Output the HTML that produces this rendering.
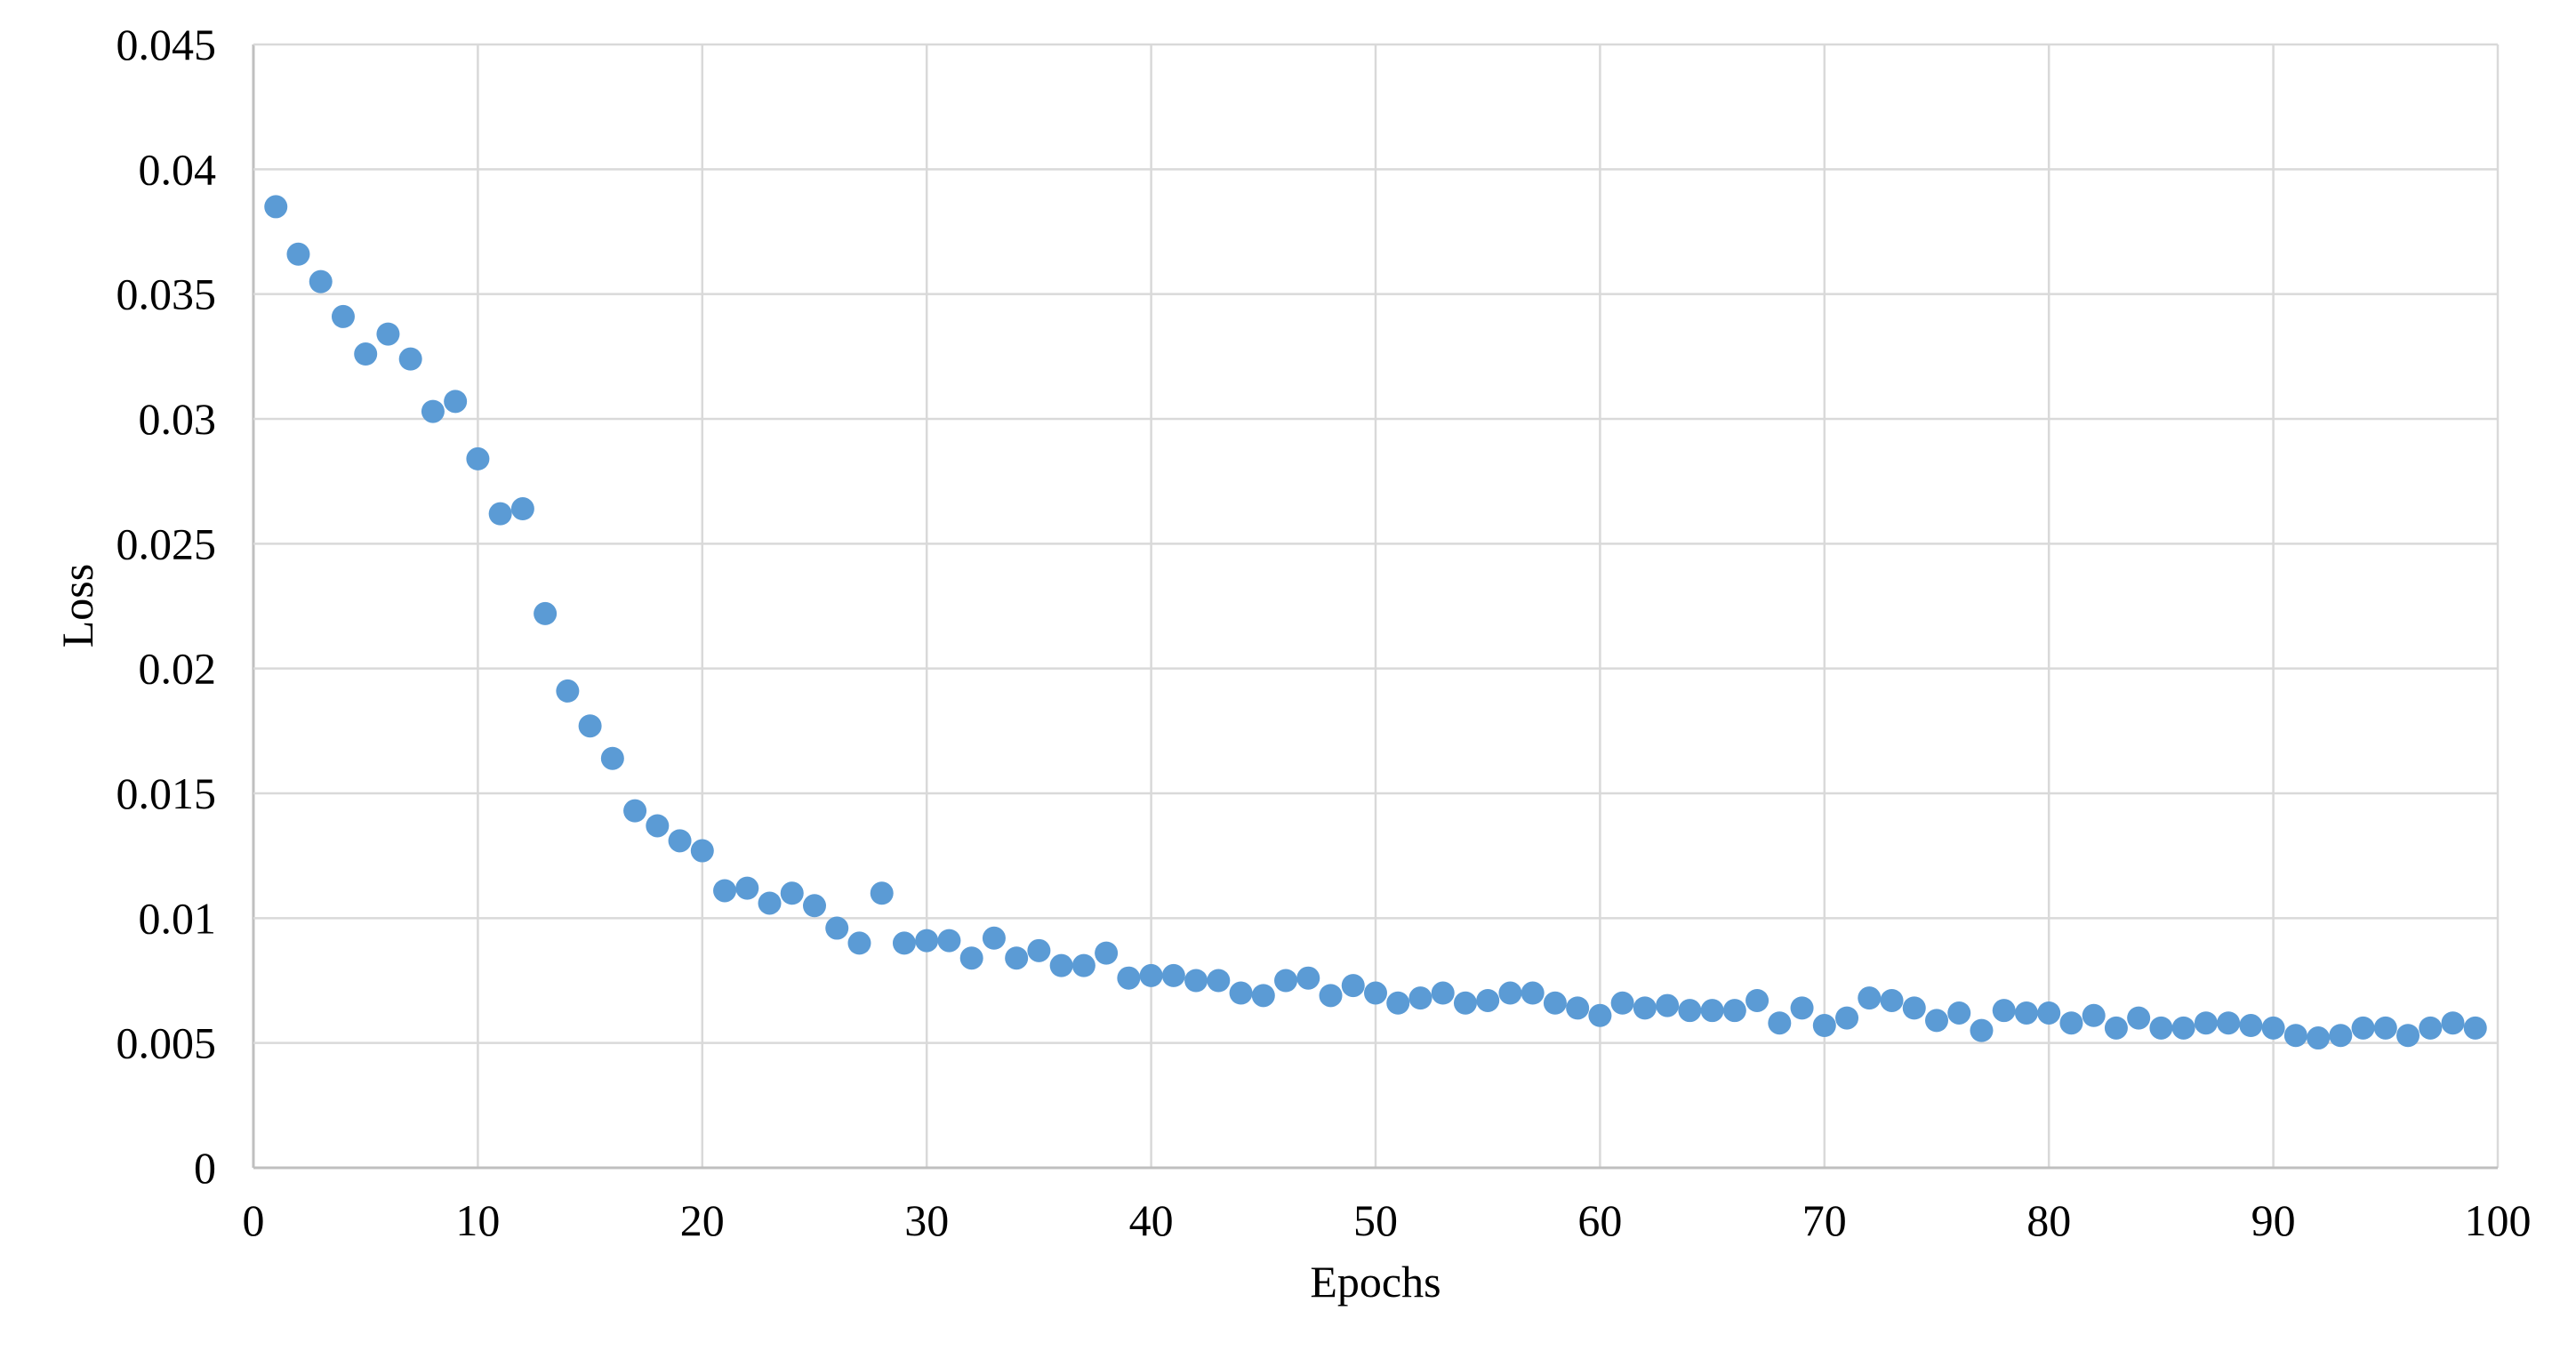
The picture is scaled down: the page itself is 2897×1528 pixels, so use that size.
<!DOCTYPE html>
<html><head><meta charset="utf-8"><style>
html,body{margin:0;padding:0;background:#fff;}
svg{display:block;}
text{font-family:"Liberation Serif",serif;fill:#000;}
</style></head><body>
<svg id="chart" width="2897" height="1528" viewBox="0 0 2897 1528" xmlns="http://www.w3.org/2000/svg">
<g id="grid"></g>
<g id="axes"></g>
<g id="points"></g>
<text x="1547" y="1458" font-size="50" text-anchor="middle">Epochs</text>
<text x="0" y="0" font-size="50" text-anchor="middle" transform="translate(104,681) rotate(-90)">Loss</text>
</svg>
<script>
const epochs = [];
for (let i = 1; i <= 99; i++) epochs.push(i);
const lossValues = [0.0385,0.0366,0.0355,0.0341,0.0326,0.0334,0.0324,0.0303,0.0307,0.0284,
0.0262,0.0264,0.0222,0.0191,0.0177,0.0164,0.0143,0.0137,0.0131,0.0127,
0.0111,0.0112,0.0106,0.0110,0.0105,0.0096,0.0090,0.0110,0.0090,0.0091,
0.0091,0.0084,0.0092,0.0084,0.0087,0.0081,0.0081,0.0086,0.0076,0.0077,
0.0077,0.0075,0.0075,0.0070,0.0069,0.0075,0.0076,0.0069,0.0073,0.0070,
0.0066,0.0068,0.0070,0.0066,0.0067,0.0070,0.0070,0.0066,0.0064,0.0061,
0.0066,0.0064,0.0065,0.0063,0.0063,0.0063,0.0067,0.0058,0.0064,0.0057,
0.0060,0.0068,0.0067,0.0064,0.0059,0.0062,0.0055,0.0063,0.0062,0.0062,
0.0058,0.0061,0.0056,0.0060,0.0056,0.0056,0.0058,0.0058,0.0057,0.0056,
0.0053,0.0052,0.0053,0.0056,0.0056,0.0053,0.0056,0.0058,0.0056];
const xTicks = [0,10,20,30,40,50,60,70,80,90,100];
const yTicks = [0,0.005,0.01,0.015,0.02,0.025,0.03,0.035,0.04,0.045];
const yTickLabels = ["0","0.005","0.01","0.015","0.02","0.025","0.03","0.035","0.04","0.045"];

const L=285,R=2809,T=50,B=1313;
const xMin=0,xMax=100,yMin=0,yMax=0.045;
const xs=v=>L+(v-xMin)/(xMax-xMin)*(R-L);
const ys=v=>B-(v-yMin)/(yMax-yMin)*(B-T);
const NS="http://www.w3.org/2000/svg";
const grid=document.getElementById('grid'),axes=document.getElementById('axes'),pts=document.getElementById('points');
function mk(tag,attrs,parent){const e=document.createElementNS(NS,tag);for(const k in attrs)e.setAttribute(k,attrs[k]);parent.appendChild(e);return e;}

xTicks.forEach((t,i)=>{
  const x=xs(t);
  const ln=mk('line',{x1:x,x2:x,y1:T,y2:B,stroke:i===0?'#bfbfbf':'#d9d9d9','stroke-width':i===0?3:2.5},grid);
  
  
  const tx=mk('text',{x:x,y:B+76,'font-size':50,'text-anchor':'middle'},axes);
  tx.textContent=String(t);
  
  
});
yTicks.forEach((t,i)=>{
  const y=ys(t);
  const ln=mk('line',{x1:L,x2:R,y1:y,y2:y,stroke:i===0?'#bfbfbf':'#d9d9d9','stroke-width':i===0?3:2.5},grid);
  
  
  const tx=mk('text',{x:L-42,y:y+17,'font-size':50,'text-anchor':'end'},axes);
  tx.textContent=yTickLabels[i];
  
  
});
epochs.forEach((e,i)=>{
  const c=mk('circle',{cx:xs(e),cy:ys(lossValues[i]),r:13,fill:'#5b9bd5'},pts);
  
  
});
</script>
</body></html>
